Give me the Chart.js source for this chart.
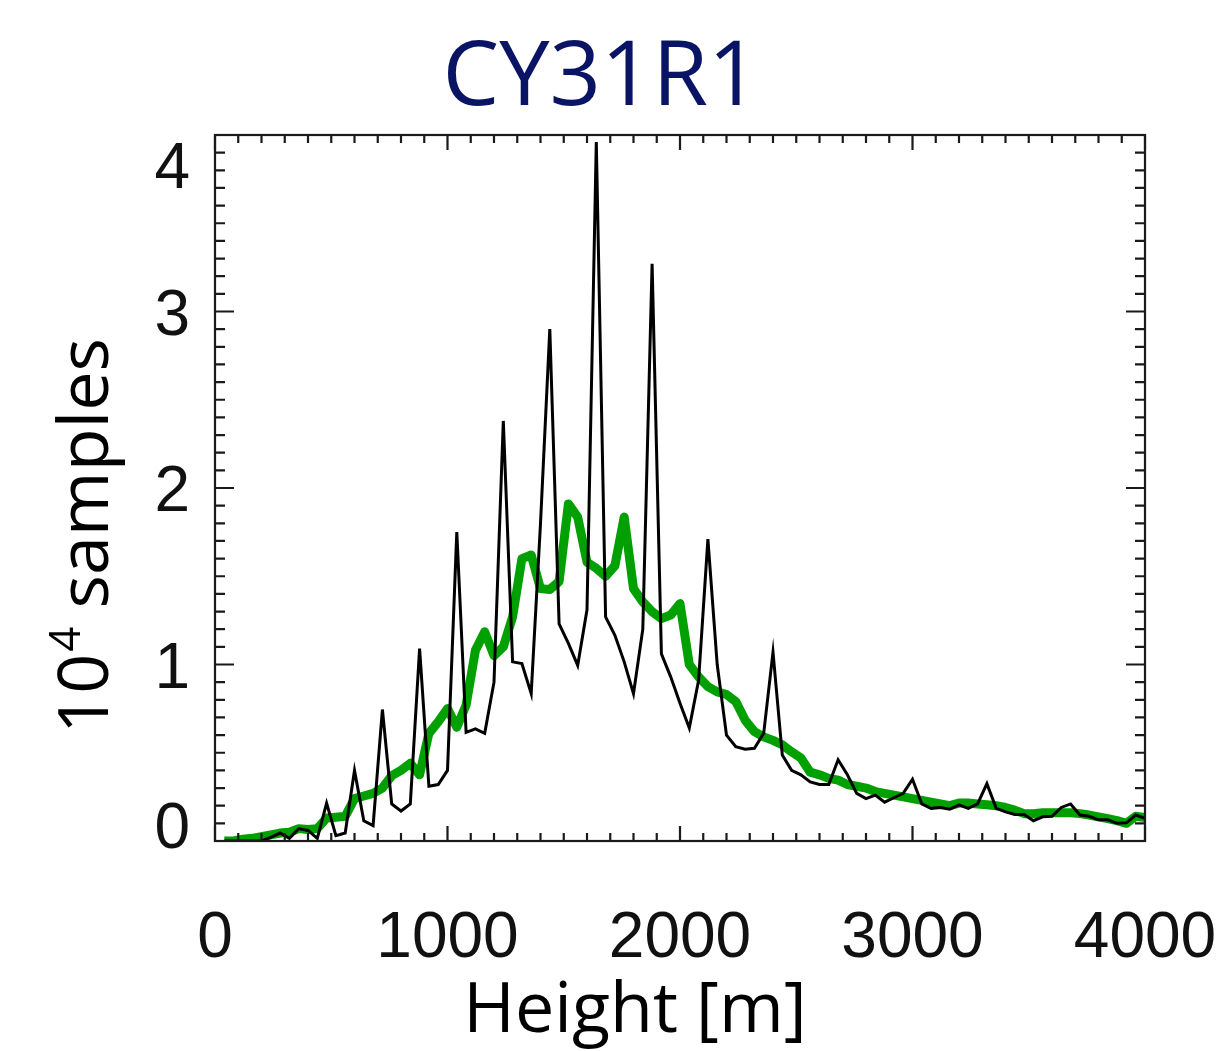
<!DOCTYPE html>
<html>
<head>
<meta charset="utf-8">
<title>CY31R1</title>
<script src="https://cdn.jsdelivr.net/npm/chart.js@4.4.1/dist/chart.umd.min.js"></script>
<style>
    html, body { margin: 0; padding: 0; background: #ffffff; }
    #wrap { width: 1229px; height: 1051px; }
</style>
</head>
<body>
<div id="wrap"><canvas id="myChart" width="1229" height="1051"></canvas></div>
<script>
// height of each bin [m]
var heights = [
    40, 80, 120, 160, 200, 240, 280, 320, 360, 400,
    440, 480, 520, 560, 600, 640, 680, 720, 760, 800,
    840, 880, 920, 960, 1000, 1040, 1080, 1120, 1160, 1200,
    1240, 1280, 1320, 1360, 1400, 1440, 1480, 1520, 1560, 1600,
    1640, 1680, 1720, 1760, 1800, 1840, 1880, 1920, 1960, 2000,
    2040, 2080, 2120, 2160, 2200, 2240, 2280, 2320, 2360, 2400,
    2440, 2480, 2520, 2560, 2600, 2640, 2680, 2720, 2760, 2800,
    2840, 2880, 2920, 2960, 3000, 3040, 3080, 3120, 3160, 3200,
    3240, 3280, 3320, 3360, 3400, 3440, 3480, 3520, 3560, 3600,
    3640, 3680, 3720, 3760, 3800, 3840, 3880, 3920, 3960, 4000
];

// black curve, 10^4 samples
var samplesBlack = [
    0.00, 0.00, 0.00, 0.00, 0.00, 0.02, 0.045, 0.015, 0.07, 0.06,
    0.015, 0.215, 0.03, 0.045, 0.40, 0.115, 0.087, 0.745, 0.21, 0.17,
    0.21, 1.09, 0.31, 0.32, 0.40, 1.75, 0.615, 0.635, 0.61, 0.90,
    2.38, 1.015, 1.005, 0.835, 1.80, 2.90, 1.23, 1.12, 0.995, 1.31,
    3.96, 1.27, 1.165, 1.015, 0.835, 1.20, 3.27, 1.06, 0.93, 0.78,
    0.64, 0.91, 1.71, 1.00, 0.60, 0.535, 0.52, 0.525, 0.61, 1.07,
    0.487, 0.40, 0.375, 0.335, 0.32, 0.32, 0.46, 0.375, 0.27, 0.24,
    0.26, 0.22, 0.245, 0.27, 0.35, 0.21, 0.185, 0.19, 0.18, 0.205,
    0.185, 0.21, 0.325, 0.185, 0.165, 0.15, 0.15, 0.115, 0.137, 0.14,
    0.19, 0.21, 0.147, 0.14, 0.12, 0.12, 0.10, 0.103, 0.147, 0.128
];

// green curve, 10^4 samples
var samplesGreen = [
    0.00, 0.00, 0.01, 0.015, 0.025, 0.035, 0.045, 0.05, 0.07, 0.065,
    0.07, 0.13, 0.135, 0.14, 0.24, 0.255, 0.27, 0.30, 0.37, 0.40,
    0.44, 0.375, 0.61, 0.675, 0.75, 0.645, 0.77, 1.08, 1.185, 1.05,
    1.10, 1.27, 1.60, 1.62, 1.43, 1.425, 1.47, 1.91, 1.835, 1.58,
    1.545, 1.50, 1.56, 1.835, 1.43, 1.355, 1.30, 1.26, 1.28, 1.345,
    1.00, 0.93, 0.875, 0.845, 0.83, 0.79, 0.685, 0.62, 0.59, 0.57,
    0.545, 0.505, 0.47, 0.39, 0.375, 0.355, 0.345, 0.32, 0.31, 0.30,
    0.28, 0.27, 0.26, 0.25, 0.24, 0.23, 0.22, 0.21, 0.20, 0.215,
    0.215, 0.21, 0.205, 0.20, 0.19, 0.175, 0.155, 0.155, 0.16, 0.16,
    0.16, 0.16, 0.155, 0.147, 0.137, 0.127, 0.115, 0.10, 0.14, 0.133
];

var xTickLabels = ['0', '1000', '2000', '3000', '4000'];
var yTickLabels = ['0', '1', '2', '3', '4'];

var titleText = 'CY31R1';
var xTitle = 'Height [m]';

function toPoints(ys) {
    var pts = [];
    for (var i = 0; i < heights.length; i++) {
        pts.push({ x: heights[i], y: ys[i] });
    }
    return pts;
}

// IDL style box: inward ticks on every side, labels and titles
var idlFrame = {
    id: 'idlFrame',
    afterDraw: function (chart) {
        var ctx = chart.ctx;
        var a = chart.chartArea;
        var xs = chart.scales.x;
        var ys = chart.scales.y;
        var k, p, len;

        ctx.save();
        ctx.strokeStyle = '#1a1a1a';
        ctx.lineWidth = 2.2;
        ctx.strokeRect(a.left, a.top, a.right - a.left, a.bottom - a.top);

        ctx.beginPath();
        // x: minor every 100 m, major every 1000 m
        for (k = 0; k <= 40; k++) {
            p = xs.getPixelForValue(k * 100);
            len = (k % 10 === 0) ? 15 : 8;
            ctx.moveTo(p, a.bottom); ctx.lineTo(p, a.bottom - len);
            ctx.moveTo(p, a.top); ctx.lineTo(p, a.top + len);
        }
        // y: minor every 0.1, major every 1
        for (k = 0; k <= 40; k++) {
            p = ys.getPixelForValue(k / 10);
            len = (k % 10 === 0) ? 19 : 10;
            ctx.moveTo(a.left, p); ctx.lineTo(a.left + len, p);
            ctx.moveTo(a.right, p); ctx.lineTo(a.right - len, p);
        }
        ctx.stroke();

        // tick labels
        ctx.fillStyle = '#111111';
        ctx.font = '64px "Liberation Sans", Arial, sans-serif';
        ctx.textAlign = 'center';
        ctx.textBaseline = 'alphabetic';
        xTickLabels.forEach(function (t) {
            ctx.fillText(t, xs.getPixelForValue(Number(t)), a.bottom + 116);
        });

        ctx.textAlign = 'right';
        yTickLabels.forEach(function (t) {
            var py = ys.getPixelForValue(Number(t));
            py = Math.min(Math.max(py, a.top + 30), a.bottom - 16);
            ctx.fillText(t, a.left - 25, py + 23);
        });

        // title
        ctx.fillStyle = '#0a1464';
        ctx.font = '90px "Open Sans", sans-serif';
        ctx.textAlign = 'center';
        ctx.fillText(titleText, 601, 105);

        // x title
        ctx.fillStyle = '#000000';
        ctx.font = '70px "Open Sans", sans-serif';
        ctx.fillText(xTitle, 635, a.bottom + 191);

        // y title: 10^4 samples, rotated
        ctx.translate(108, 537);
        ctx.rotate(-Math.PI / 2);
        ctx.textAlign = 'left';
        var big = '70px "Open Sans", sans-serif';
        var small = '44px "Open Sans", sans-serif';
        ctx.font = big;
        var w1 = ctx.measureText('10').width;
        var w3 = ctx.measureText(' samples').width;
        ctx.font = small;
        var w2 = ctx.measureText('4').width;
        var x0 = -(w1 + w2 + w3) / 2;
        ctx.font = big;
        ctx.fillText('10', x0, 0);
        ctx.font = small;
        ctx.fillText('4', x0 + w1 + 2, -28);
        ctx.font = big;
        ctx.fillText(' samples', x0 + w1 + w2 + 2, 0);

        ctx.restore();
    }
};

var ctx = document.getElementById('myChart').getContext('2d');
var myChart = new Chart(ctx, {
    type: 'line',
    data: {
        datasets: [{
            label: 'black',
            data: toPoints(samplesBlack),
            borderColor: '#000000',
            borderWidth: 3,
            pointRadius: 0,
            tension: 0,
            fill: false,
            order: 0
        }, {
            label: 'green',
            data: toPoints(samplesGreen),
            borderColor: '#00a000',
            borderWidth: 9,
            borderJoinStyle: 'round',
            pointRadius: 0,
            tension: 0,
            fill: false,
            order: 1
        }]
    },
    options: {
        responsive: false,
        animation: false,
        layout: { padding: { left: 215, right: 84, top: 135, bottom: 210 } },
        plugins: {
            legend: { display: false },
            tooltip: { enabled: false },
            title: { display: false }
        },
        scales: {
            x: { type: 'linear', min: 0, max: 4000, display: false },
            y: { type: 'linear', min: 0, max: 4, display: false }
        }
    },
    plugins: [idlFrame]
});
</script>
</body>
</html>
